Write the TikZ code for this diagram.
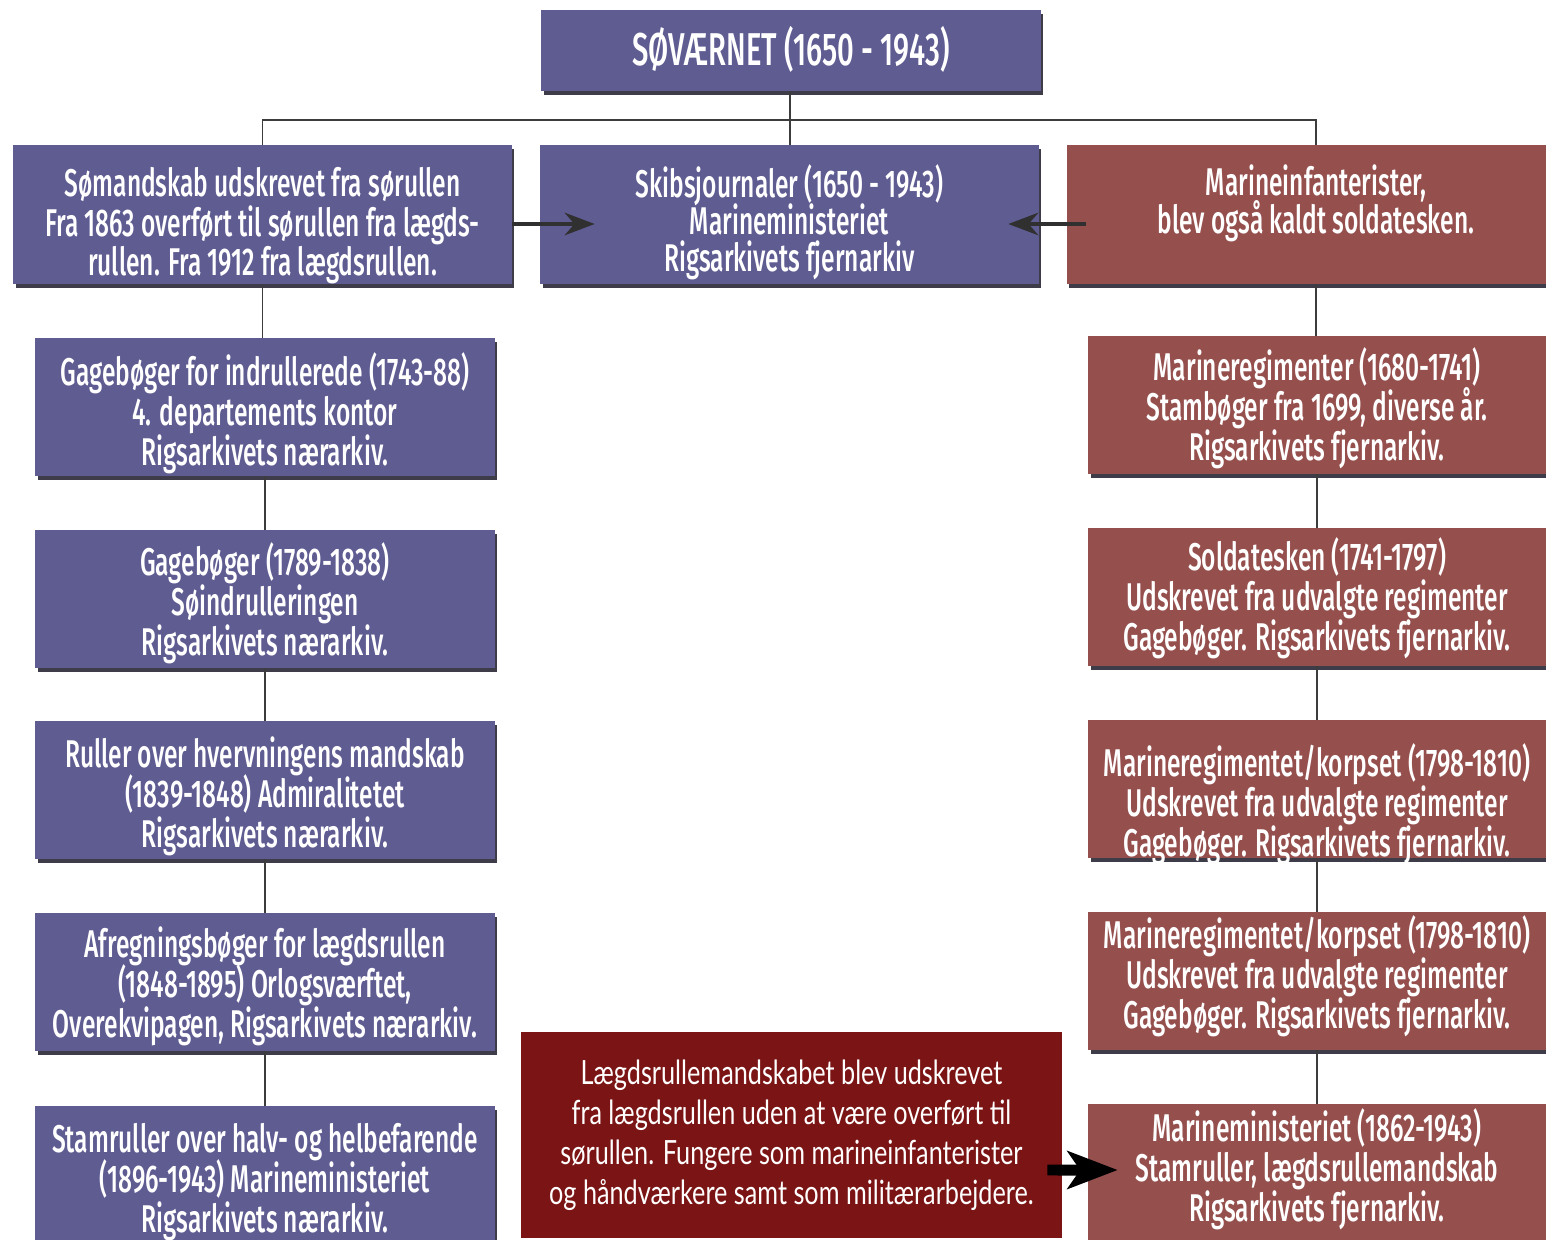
\documentclass[tikz,border=0pt]{standalone}
\usepackage{fontspec}
\newfontfamily\boxfont{Fira Sans Medium}[FakeStretch=0.635]
\newfontfamily\notefont{Lato}[FakeStretch=0.756]
\usetikzlibrary{arrows.meta}
\usetikzlibrary{shadows}
\definecolor{boxblue}{RGB}{95,92,146}
\definecolor{boxred}{RGB}{149,80,78}
\definecolor{notered}{RGB}{123,20,20}
\definecolor{shadowgray}{RGB}{62,60,72}
\definecolor{linegray}{RGB}{60,60,60}
% text block, lowered by #1 pixels from the middle of its box
\newcommand{\boxtext}[2][0]{\makebox[0pt]{\raisebox{\dimexpr-7.5pt-0.567pt*#1\relax}[0pt][0pt]{%
  \parbox{12cm}{\centering\lineskiplimit=-50pt\rule{0pt}{18pt}#2\rule[-6pt]{0pt}{0pt}}}}}
\tikzset{
  box/.style={text=white, inner sep=0pt,
    font=\boxfont\fontsize{22}{22.7}\selectfont,
    drop shadow={shadow xshift=0.05cm, shadow yshift=-0.08cm, fill=shadowgray, opacity=1}},
  bluebox/.style={box, fill=boxblue},
  redbox/.style={box, fill=boxred},
  toprow/.style={minimum width=9.98cm, minimum height=2.78cm},
  leftcol/.style={bluebox, minimum width=9.2cm, minimum height=2.76cm},
  rightcol/.style={redbox, minimum width=9.16cm, minimum height=2.76cm},
  tree/.style={draw=linegray, line width=1.1pt},
  arr/.style={draw=linegray!80!black, line width=2.2pt, -{Stealth[length=0.6cm,width=0.45cm]}},
}
\begin{document}
\begin{tikzpicture}[x=0.02cm,y=-0.02cm]
  \clip (0,0) rectangle (1546,1240);
  % top of the tree
  \node[bluebox, minimum width=10cm, minimum height=1.62cm,
        font=\boxfont\fontsize{26.2}{28}\selectfont] (navy) at (791,50.5) {\boxtext[-2]{SØVÆRNET (1650 - 1943)}};
  \node[bluebox, toprow] (crew) at (262.5,214.5)
    {\boxtext[7]{Sømandskab udskrevet fra sørullen\\Fra 1863 overført til sørullen fra lægds-\\rullen. Fra 1912 fra lægdsrullen.}};
  \node[bluebox, toprow] (logs) at (789.5,214.5)
    {\boxtext[5]{Skibsjournaler (1650 - 1943)\\[-1.5pt]Marineministeriet\\[-1.5pt]Rigsarkivets fjernarkiv}};
  \node[redbox, toprow] (marines) at (1316,214.5)
    {\boxtext[-15]{Marineinfanterister,\\[-1pt]blev også kaldt soldatesken.}};
  \coordinate (bus) at (790,120);
  \draw[tree] (navy.south -| bus) -- (bus);
  \draw[tree] (crew.north) |- (bus) -| (marines.north);
  \draw[tree] (bus) -- (bus |- logs.north);

  % left column
  \node[leftcol] (pay) at (265,407)
    {\boxtext[3]{Gagebøger for indrullerede (1743-88)\\4. departements kontor\\Rigsarkivets nærarkiv.}};
  \node[leftcol] (enrol) at (265,599)
    {\boxtext[1]{Gagebøger (1789-1838)\\Søindrulleringen\\Rigsarkivets nærarkiv.}};
  \node[leftcol] (recruit) at (265,790)
    {\boxtext[3]{Ruller over hvervningens mandskab\\(1839-1848) Admiralitetet\\Rigsarkivets nærarkiv.}};
  \node[leftcol] (settle) at (265,982)
    {\boxtext[1]{Afregningsbøger for lægdsrullen\\(1848-1895) Orlogsværftet,\\Overekvipagen, Rigsarkivets nærarkiv.}};
  \node[leftcol] (rolls) at (265,1175)
    {\boxtext[3]{Stamruller over halv- og helbefarende\\(1896-1943) Marineministeriet\\Rigsarkivets nærarkiv.}};

  % right column
  \node[rightcol] (regA) at (1317,405)
    {\boxtext{Marineregimenter (1680-1741)\\Stambøger fra 1699, diverse år.\\Rigsarkivets fjernarkiv.}};
  \node[rightcol] (regB) at (1317,597)
    {\boxtext[-2]{Soldatesken (1741-1797)\\Udskrevet fra udvalgte regimenter\\Gagebøger. Rigsarkivets fjernarkiv.}};
  \node[rightcol] (regC) at (1317,789)
    {\boxtext[12]{Marineregimentet/korpset (1798-1810)\\Udskrevet fra udvalgte regimenter\\Gagebøger. Rigsarkivets fjernarkiv.}};
  \node[rightcol] (regD) at (1317,981)
    {\boxtext[-8]{Marineregimentet/korpset (1798-1810)\\Udskrevet fra udvalgte regimenter\\Gagebøger. Rigsarkivets fjernarkiv.}};
  \node[rightcol] (ministry) at (1317,1173)
    {\boxtext[-7]{Marineministeriet (1862-1943)\\Stamruller, lægdsrullemandskab\\Rigsarkivets fjernarkiv.}};

  % note
  \node[fill=notered, text=white, align=center, inner sep=0pt,
        minimum width=10.82cm, minimum height=4.12cm,
        font=\notefont\fontsize{19}{22.7}\selectfont] (note) at (791.5,1135)
    {Lægdsrullemandskabet blev udskrevet\\fra lægdsrullen uden at være overført til\\sørullen. Fungere som marineinfanterister\\og håndværkere samt som militærarbejdere.};

  % vertical links
  \foreach \a/\b in {crew/pay, pay/enrol, enrol/recruit, recruit/settle, settle/rolls}
    \draw[tree] (\a.south) -- (\a.south |- \b.north);
  \foreach \a/\b in {marines/regA, regA/regB, regB/regC, regC/regD, regD/ministry}
    \draw[tree] (\a.south) -- (\a.south |- \b.north);

  % arrows
  \draw[arr] ([yshift=-0.19cm]crew.east) -- ([xshift=1.1cm,yshift=-0.19cm]logs.west);
  \draw[arr] ([xshift=0.4cm,yshift=-0.19cm]marines.west) -- ([xshift=-0.62cm,yshift=-0.19cm]logs.east);
  \draw[line width=0.22cm, -{Stealth[length=1cm,width=0.75cm,inset=0.25cm]}]
    ([xshift=-0.3cm,yshift=-0.7cm]note.east) -- ([xshift=0.6cm,yshift=0.06cm]ministry.west);
\end{tikzpicture}
\end{document}
